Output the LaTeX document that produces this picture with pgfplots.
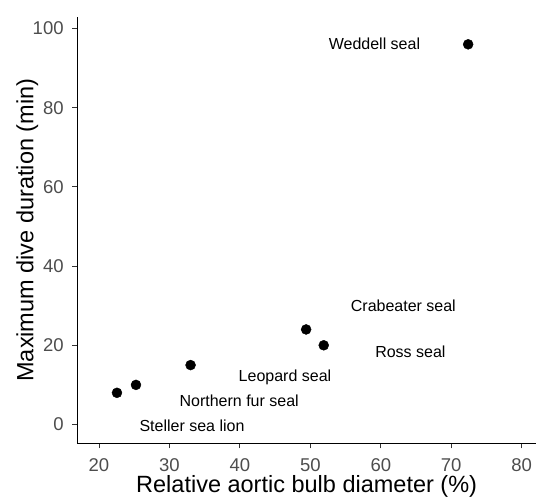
\documentclass[border=0pt]{standalone}
\usepackage{pgfplots}
\pgfplotsset{compat=1.18}
\usepackage{pgfplotstable}
\usepackage{fontspec}
\setmainfont{Liberation Sans}
\usetikzlibrary{calc}

\definecolor{ticktext}{HTML}{4D4D4D}
\definecolor{tickline}{HTML}{333333}

\pgfplotstableread[col sep=comma]{
x,y
22.55,8
25.25,10
33.0,15
49.4,24
51.9,20
72.4,96
}\seals

\pgfplotstableread[col sep=comma]{
x,y,label
59.1,94.7,Weddell seal
63.2,28.5,Crabeater seal
64.2,16.9,Ross seal
46.4,10.8,Leopard seal
39.9,4.5,Northern fur seal
33.2,-1.8,Steller sea lion
}\sealnames

\begin{document}
\begin{tikzpicture}
\begin{axis}[
  at={(0,0)}, anchor=south west,
  scale only axis,
  width=458.7pt, height=426.3pt,
  xmin=16.92, xmax=82.03,
  ymin=-4.75, ymax=102.9,
  axis lines*=left,
  axis line style={black, line width=0.9pt},
  xtick={20,30,...,80},
  ytick={0,20,...,100},
  tick align=outside,
  major tick length=5pt,
  tick style={tickline, line width=0.8pt},
  /pgf/number format/assume math mode=true,
  tick label style={font=\fontsize{18.5}{21}\selectfont, text=ticktext},
  xticklabel style={anchor=base, inner sep=0pt, yshift=-23.6pt},
  yticklabel style={anchor=east, inner sep=0pt, xshift=-8.5pt},
  xlabel={Relative aortic bulb diameter (\%)},
  ylabel={Maximum dive duration (min)},
  label style={font=\fontsize{23.5}{27}\selectfont},
  xlabel style={at={(axis description cs:0.5,0)}, anchor=base, inner sep=0pt, yshift=-49.7pt},
  ylabel style={at={($(axis description cs:0,0.5)+(-44pt,0)$)}, anchor=base, inner sep=0pt},
  clip=false,
]
\addplot[only marks, mark=*, mark size=5pt, black] table[x=x, y=y] {\seals};
\addplot[draw=none, mark=none,
  nodes near coords, point meta=explicit symbolic,
  every node near coord/.style={anchor=base, inner sep=0pt, text=black,
    font=\fontsize{16}{19}\selectfont}]
  table[x=x, y=y, meta=label] {\sealnames};
\end{axis}
\pgfresetboundingbox
\useasboundingbox (-77.3pt,-53.7pt) rectangle (458.7pt,443.3pt);
\end{tikzpicture}
\end{document}
